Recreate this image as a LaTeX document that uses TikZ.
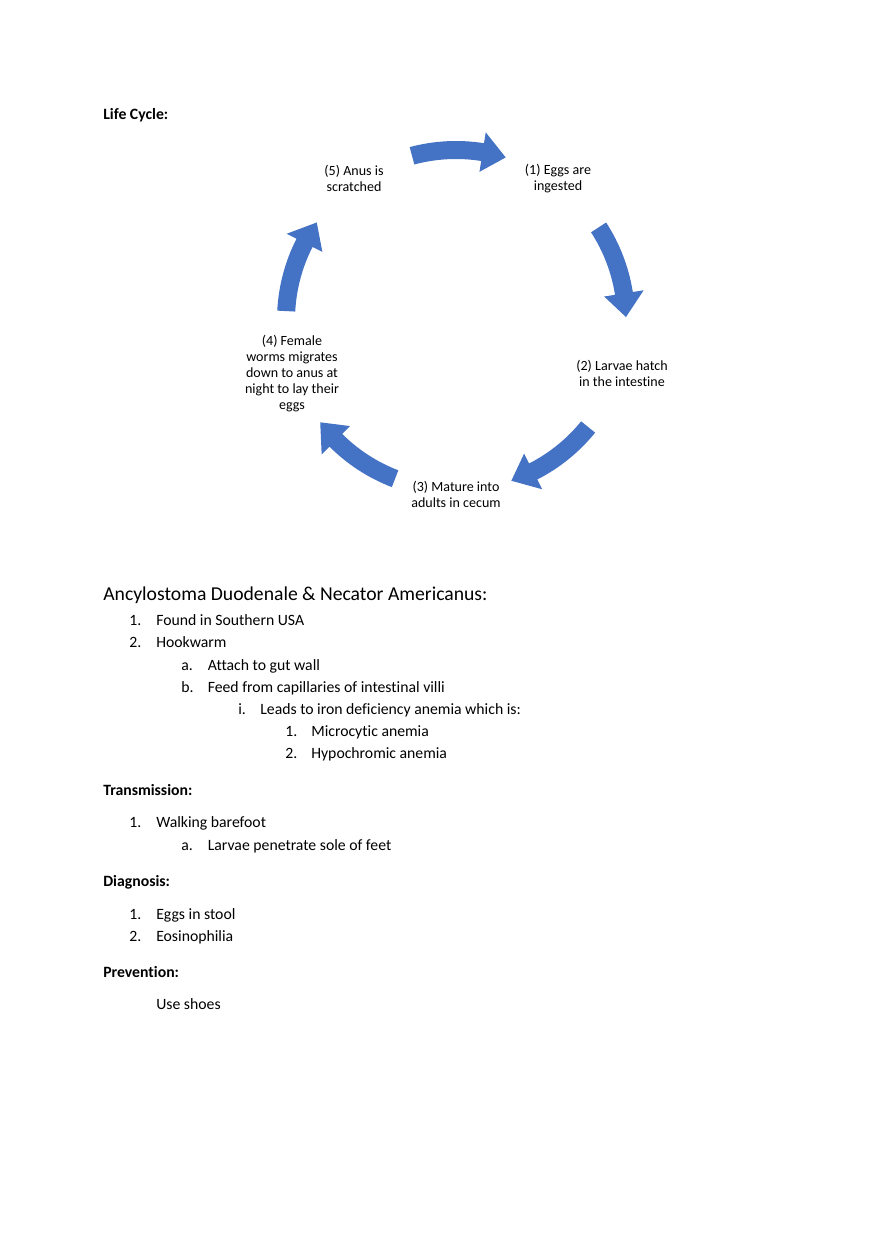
\documentclass[tikz,border=0pt]{standalone}
\usepackage{fontspec}
\setmainfont{Carlito}[Ligatures=NoCommon]
\definecolor{cycleblue}{HTML}{4472C4}
\begin{document}
\begin{tikzpicture}[x=0.6765pt,y=-0.6765pt,
	txt/.style={anchor=base west,inner sep=0pt,font=\fontsize{10.65}{13}\selectfont},
	hdr/.style={txt,font=\fontsize{10.65}{13}\selectfont\bfseries},
	step label/.style={align=center,inner sep=0pt,font=\fontsize{9.5}{10.8}\selectfont}]
	\useasboundingbox (0,0) rectangle (880,1247);

	\node[hdr] at (103,119.5) (life) {Life Cycle:};

	% cycle arrows
	\begin{scope}[shift={(456,320)}]
	\foreach \k in {0,...,4}{
		\pgfmathsetmacro\as{-105+72*\k}
		\pgfmathsetmacro\ah{-81+72*\k}
		\pgfmathsetmacro\ae{-73+72*\k}
		\fill[cycleblue] (\as:179) arc[start angle=\as,end angle=\ah,radius=179]
			-- (\ah:190) -- (\ae:170) -- (\ah:150) -- (\ah:161)
			arc[start angle=\ah,end angle=\as,radius=161] -- cycle;
	}
	\end{scope}

	\node[step label] at (558,178.7) (s1) {(1) Eggs are\\ingested};
	\node[step label] at (622,373.2) (s2) {(2) Larvae hatch\\in the intestine};
	\node[step label] at (456,494) (s3) {(3) Mature into\\adults in cecum};
	\node[step label] at (292,373.5) (s4) {(4) Female\\worms migrates\\down to anus at\\night to lay their\\eggs};
	\node[step label] at (354,178.7) (s5) {(5) Anus is\\scratched};

	\node[txt,font=\fontsize{13.3}{16}\selectfont] at (103,600.7) (title) {Ancylostoma Duodenale \& Necator Americanus:};
	\node[txt] at (129,625.5) (n1) {1.};
	\node[txt] at (156,625.5) (found) {Found in Southern USA};
	\node[txt] at (129,647.5) (n2) {2.};
	\node[txt] at (156,647.5) (hook) {Hookwarm};
	\node[txt] at (181,670.5) (na) {a.};
	\node[txt] at (207.5,670.5) (attach) {Attach to gut wall};
	\node[txt] at (181,692.5) (nb) {b.};
	\node[txt] at (207.5,692.5) (feed) {Feed from capillaries of intestinal villi};
	\node[txt] at (238,714.5) (ni) {i.};
	\node[txt] at (260,714.5) (leads) {Leads to iron deficiency anemia which is:};
	\node[txt] at (285,736.5) (nm1) {1.};
	\node[txt] at (311,736.5) (micro) {Microcytic anemia};
	\node[txt] at (285,758.5) (nm2) {2.};
	\node[txt] at (311,758.5) (hypo) {Hypochromic anemia};

	\node[hdr] at (103,795.5) (trans) {Transmission:};
	\node[txt] at (129,827) (nt1) {1.};
	\node[txt] at (156,827) (walk) {Walking barefoot};
	\node[txt] at (181,850) (nta) {a.};
	\node[txt] at (207.5,850) (larvae) {Larvae penetrate sole of feet};

	\node[hdr] at (103,886) (diag) {Diagnosis:};
	\node[txt] at (129,919) (nd1) {1.};
	\node[txt] at (156,919) (eggs) {Eggs in stool};
	\node[txt] at (129,941) (nd2) {2.};
	\node[txt] at (156,941) (eos) {Eosinophilia};

	\node[hdr] at (103,977.5) (prev) {Prevention:};
	\node[txt] at (156,1009.5) (shoes) {Use shoes};
\end{tikzpicture}
\end{document}
